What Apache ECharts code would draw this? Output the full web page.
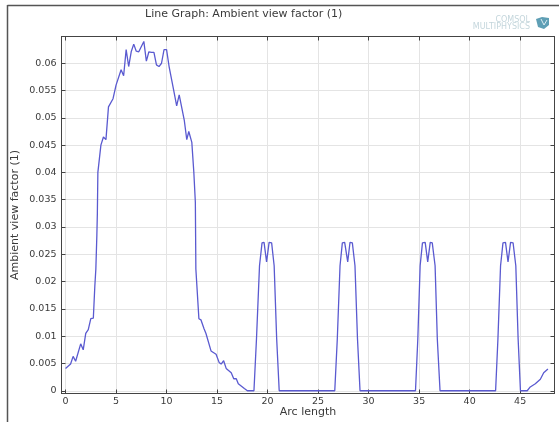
<!DOCTYPE html>
<html>
<head>
<meta charset="utf-8">
<script src="https://cdn.jsdelivr.net/npm/echarts@6/dist/echarts.min.js"></script>
<style>html,body{margin:0;padding:0;background:#fff}#c{width:559px;height:422px}</style>
</head>
<body>
<div id="c"></div>
<script>
const arcLength = [0,0.5,0.75,1,1.5,1.75,2,2.25,2.5,2.75,2.9,3,3.1,3.15,3.2,3.5,3.75,4,4.25,4.7,5,5.5,5.75,6,6.25,6.5,6.75,7,7.25,7.75,8,8.25,8.5,8.75,9,9.25,9.5,9.75,10,10.25,10.65,11,11.25,11.75,12,12.2,12.5,12.7,12.85,12.9,13.2,13.4,13.7,13.9,14.4,14.9,15.2,15.4,15.65,15.9,16.4,16.65,16.9,17.1,17.7,18,18.65,18.9,19.2,19.45,19.65,19.9,20.15,20.4,20.65,20.9,21.15,26.65,26.9,27.17,27.4,27.63,27.93,28.16,28.39,28.65,28.9,29.15,34.64,34.87,35.1,35.33,35.6,35.85,36.1,36.3,36.58,36.8,37.07,42.57,42.8,43.06,43.3,43.55,43.8,44.05,44.3,44.57,44.8,45.03,45.7,46,46.5,47,47.33,47.75];
const viewFactor = [0.0041,0.0049,0.0063,0.0054,0.0086,0.0075,0.0105,0.0112,0.0132,0.0133,0.0192,0.0223,0.0285,0.0325,0.04,0.045,0.0465,0.046,0.052,0.0535,0.056,0.0588,0.0577,0.0625,0.0594,0.0621,0.0635,0.0622,0.0621,0.064,0.0604,0.0621,0.062,0.062,0.0597,0.0594,0.06,0.0625,0.0625,0.0594,0.0556,0.0522,0.0542,0.0496,0.046,0.0475,0.0455,0.04,0.0345,0.0223,0.0132,0.013,0.0114,0.0105,0.0073,0.0067,0.0052,0.0049,0.0055,0.0041,0.0033,0.0022,0.0022,0.0013,0.0004,0,0,0.0095,0.0229,0.0271,0.0272,0.0236,0.0272,0.0271,0.0229,0.0095,0,0,0.0095,0.0229,0.0271,0.0272,0.0236,0.0272,0.0271,0.0229,0.0095,0,0,0.0095,0.0229,0.0271,0.0272,0.0236,0.0272,0.0271,0.0229,0.0095,0,0,0.0095,0.0229,0.0271,0.0272,0.0236,0.0272,0.0271,0.0229,0.0095,0,0,0.0007,0.0013,0.0021,0.0033,0.004];
const xTicks = [0,5,10,15,20,25,30,35,40,45];
const yTicks = [0,0.005,0.01,0.015,0.02,0.025,0.03,0.035,0.04,0.045,0.05,0.055,0.06];
const titleText = 'Line Graph: Ambient view factor (1)';
const xName = 'Arc length';
const yName = 'Ambient view factor (1)';

const FONT = '"DejaVu Sans"';
const TXT = '#3a3a3a';
const AXIS = '#444444';
const GRID = '#e4e4e4';
const xRange = {min:-0.4, max:48.4};
const yRange = {min:-0.0005, max:0.0649};
const chart = echarts.init(document.getElementById('c'), null, {renderer:'canvas'});
const base = {
  axisLine:{show:true, onZero:false, lineStyle:{color:AXIS, width:1}},
};
chart.setOption({
  animation:false,
  backgroundColor:'#fff',
  grid:{left:61.5, right:4.5, top:36.5, bottom:28.5, containLabel:false, outerBoundsMode:'none'},
  title:{text:titleText, left:140, top:4, textStyle:{fontFamily:FONT, fontSize:11, fontWeight:'normal', color:TXT}},
  xAxis:[
    Object.assign({type:'value', ...xRange, position:'bottom', name:xName, nameLocation:'middle', nameGap:13, nameMoveOverlap:false,
      nameTextStyle:{fontFamily:FONT, fontSize:11, color:TXT},
      axisTick:{show:true, inside:true, length:4, customValues:xTicks, lineStyle:{color:AXIS}},
      axisLabel:{show:true, customValues:xTicks, margin:3, fontFamily:FONT, fontSize:9.5, color:TXT, showMinLabel:true, showMaxLabel:true},
      splitLine:{show:true, lineStyle:{color:GRID, width:1}}}, base),
    Object.assign({type:'value', ...xRange, position:'top',
      axisTick:{show:true, inside:true, length:4, customValues:xTicks, lineStyle:{color:AXIS}},
      axisLabel:{show:false}, splitLine:{show:false}}, base)
  ],
  yAxis:[
    Object.assign({type:'value', ...yRange, position:'left', name:yName, nameLocation:'middle', nameGap:41, nameMoveOverlap:false,
      nameTextStyle:{fontFamily:FONT, fontSize:11, color:TXT},
      axisTick:{show:true, inside:true, length:4, customValues:yTicks, lineStyle:{color:AXIS}},
      axisLabel:{show:true, customValues:yTicks, margin:5, fontFamily:FONT, fontSize:9.5, color:TXT,
        formatter:v=>String(+v.toFixed(3))},
      splitLine:{show:true, lineStyle:{color:GRID, width:1}}}, base),
    Object.assign({type:'value', ...yRange, position:'right',
      axisTick:{show:true, inside:true, length:4, customValues:yTicks, lineStyle:{color:AXIS}},
      axisLabel:{show:false}, splitLine:{show:false}}, base)
  ],
  series:[{
    type:'line', xAxisIndex:0, yAxisIndex:0, showSymbol:false, smooth:false,
    data:arcLength.map((x,i)=>[x,viewFactor[i]]),
    lineStyle:{color:'#5a5ad0', width:1.3}, clip:true
  }],
  graphic:[
    {type:'line', shape:{x1:7.5,y1:5.5,x2:559,y2:5.5}, style:{stroke:'#555', lineWidth:1.5}, silent:true},
    {type:'line', shape:{x1:7.5,y1:5,x2:7.5,y2:422}, style:{stroke:'#555', lineWidth:1.5}, silent:true},
    {type:'text', style:{x:530, y:15.5, text:'COMSOL', align:'right', fill:'#c4d6dc', font:'8px "DejaVu Sans"'}, silent:true},
    {type:'text', style:{x:530, y:23, text:'MULTIPHYSICS', align:'right', fill:'#c4d6dc', font:'8px "DejaVu Sans"'}, silent:true},
    {type:'polygon', shape:{points:[[536,19],[542,17],[549,18],[549,25],[544,29],[538,27]]}, style:{fill:'#5f9fb5'}, silent:true},
    {type:'polyline', shape:{points:[[541,19],[544,25],[547,20]]}, style:{stroke:'#dcecf2', fill:'none', lineWidth:1}, silent:true}
  ]
});
</script>
</body>
</html>
